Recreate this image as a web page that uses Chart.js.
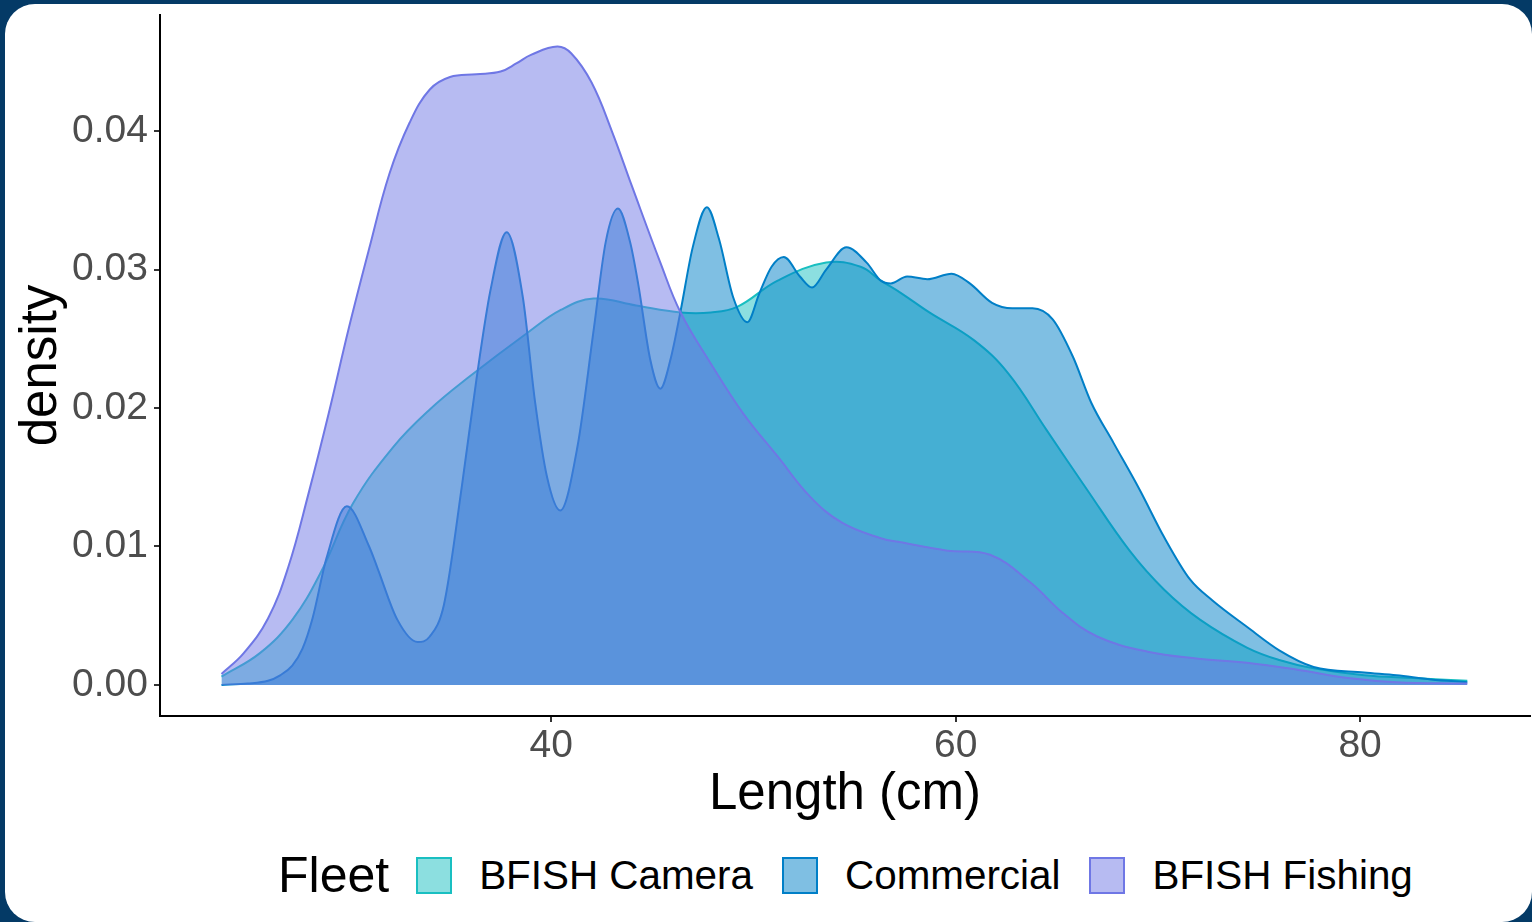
<!DOCTYPE html>
<html>
<head>
<meta charset="utf-8">
<script src="https://cdn.jsdelivr.net/npm/chart.js@4"></script>
<style>
  html, body { margin: 0; padding: 0; }
  body { width: 1532px; height: 922px; background: #043a66; position: relative; overflow: hidden;
         font-family: "Liberation Sans", Arial, Helvetica, sans-serif; }
  .card { position: absolute; left: 5px; top: 4px; width: 1527px; height: 918px; background: #fff; border-radius: 30px; }
  #wrap { position: absolute; left: 0; top: 0; width: 1532px; height: 840px; }
  #legend { position: absolute; left: 278px; top: 848px; height: 54px; display: flex; align-items: center; }
  #legend .title { font-size: 50px; margin-right: 27px; color: #000; }
  #legend .box { width: 32px; height: 33px; border: 2px solid; margin-right: 27px; }
  #legend .lab { font-size: 40.4px; margin-right: 29px; color: #000; }
</style>
</head>
<body>
<div class="card"></div>
<div id="wrap"><canvas id="density" width="1532" height="840"></canvas></div>
<div id="legend"></div>
<script>
// values
const fleets = ["BFISH Camera", "Commercial", "BFISH Fishing"];
const lineColors = ["rgb(25,191,193)", "rgb(0,127,199)", "rgb(111,119,229)"];
const fillColors = ["rgba(25,191,193,0.5)", "rgba(0,127,199,0.5)", "rgba(111,119,229,0.5)"];

const cameraLength = [23.7, 25.6, 27.2, 28.6, 30.2, 32.2, 34.0, 35.9, 38.8, 40.5, 42.1, 44.2, 46.4, 47.9, 49.2,
  51.2, 53.6, 55.3, 56.3, 57.3, 58.7, 60.9, 62.6, 64.5, 66.5, 68.6, 70.3, 72.1, 74.4, 76.0, 77.7, 80.2, 82.6, 85.3];
const cameraDensity = [0.0006, 0.0023, 0.0047, 0.0081, 0.0131, 0.0172, 0.0199, 0.0222, 0.0254, 0.0271, 0.0279, 0.0274, 0.0269, 0.0269, 0.0273,
  0.0292, 0.0305, 0.0302, 0.0292, 0.0283, 0.0269, 0.0249, 0.0225, 0.0184, 0.0141, 0.0097, 0.0069, 0.0047, 0.0027, 0.0018, 0.0012, 0.0007, 0.0005, 0.0003];

const commLength = [23.7, 25.0, 26.0, 26.6, 27.2, 27.7, 28.2, 28.9, 29.9, 31.0, 31.4, 32.4, 33.4, 34.0, 34.7, 35.6, 36.3, 37.0, 37.8, 38.6, 39.2, 39.8,
  40.45, 41.3, 42.1, 42.7, 43.3, 43.9, 44.3, 44.9, 45.4, 45.9, 46.4, 47.0, 47.7, 48.3, 49.0, 49.7, 50.3, 50.9, 51.5, 52.3,
  52.9, 53.6, 54.6, 55.6, 56.3, 56.8, 57.6, 58.6, 59.8, 60.7, 61.8, 62.8, 63.8, 64.8, 65.8, 66.7, 67.8, 69.1, 70.3, 71.6,
  72.7, 74.4, 76.0, 77.7, 80.2, 81.8, 83.5, 85.3];
const commDensity = [0.0000, 0.0001, 0.0003, 0.0007, 0.0014, 0.0026, 0.0048, 0.0092, 0.0129, 0.0100, 0.0085, 0.0047, 0.0031, 0.0035, 0.0058, 0.0145, 0.0220, 0.0285, 0.0327, 0.0280, 0.0205, 0.0150,
  0.0126, 0.0172, 0.0256, 0.0320, 0.0344, 0.0320, 0.0290, 0.0235, 0.0214, 0.0235, 0.0270, 0.0316, 0.0345, 0.0322, 0.0280, 0.0262, 0.0283, 0.0302, 0.0309, 0.0295,
  0.0287, 0.0300, 0.0316, 0.0305, 0.0292, 0.0290, 0.0295, 0.0293, 0.0297, 0.0290, 0.0276, 0.0272, 0.0272, 0.0264, 0.0237, 0.0204, 0.0175, 0.0141, 0.0107, 0.0076,
  0.0061, 0.0042, 0.0025, 0.0013, 0.0009, 0.0007, 0.0004, 0.0002];

const fishLength = [23.7, 24.8, 26.0, 27.0, 28.0, 29.0, 30.0, 31.0, 32.0, 33.0, 34.0, 35.0, 36.3, 37.5, 38.3, 39.0, 40.3, 41.0, 42.0,
  43.0, 44.0, 45.4, 46.4, 47.9, 49.5, 51.2, 52.8, 54.4, 56.3, 57.3, 59.6, 61.7, 63.7, 65.3, 67.0, 69.5, 72.0, 74.4, 76.9, 79.4, 81.8, 85.3];
const fishDensity = [0.0008, 0.0023, 0.0048, 0.0085, 0.0138, 0.0196, 0.0258, 0.0315, 0.0369, 0.0406, 0.0430, 0.0439, 0.0441, 0.0443, 0.0449, 0.0455, 0.0461, 0.0456, 0.0435,
  0.0400, 0.0360, 0.0305, 0.0269, 0.0232, 0.0196, 0.0165, 0.0136, 0.0117, 0.0106, 0.0103, 0.0097, 0.0094, 0.0074, 0.0052, 0.0035, 0.0024, 0.0019, 0.0016, 0.0011, 0.0005, 0.0002, 0.0001];

const xTicks = [40, 60, 80];
const yTicks = [0, 0.01, 0.02, 0.03, 0.04];

const series = [
  [cameraLength, cameraDensity],
  [commLength, commDensity],
  [fishLength, fishDensity]
];

const datasets = series.map(([xs, ys], i) => ({
  label: fleets[i],
  data: xs.map((x, j) => ({ x: x, y: ys[j] })),
  borderColor: lineColors[i],
  backgroundColor: fillColors[i],
  borderWidth: 2,
  pointRadius: 0,
  fill: 'origin',
  // the spiky commercial curve needs monotone so peaks do not overshoot
  cubicInterpolationMode: i === 1 ? 'monotone' : 'default',
  tension: 0.4,
  order: 3 - i
}));

const fontFamily = '"Liberation Sans", Arial, Helvetica, sans-serif';

new Chart(document.getElementById('density').getContext('2d'), {
  type: 'line',
  data: { datasets },
  options: {
    responsive: false,
    animation: false,
    layout: { padding: { left: 0, top: 15, right: 2, bottom: 0 } },
    scales: {
      x: {
        type: 'linear',
        min: 20.66,
        max: 88.4,
        afterFit: (scale) => { scale.height = 124; scale.paddingLeft = 0; scale.paddingRight = 0; },
        afterBuildTicks: (scale) => { scale.ticks = xTicks.map(v => ({ value: v })); },
        grid: { drawOnChartArea: false, drawTicks: true, tickLength: 6, color: '#333', lineWidth: 2 },
        border: { display: true, color: '#000', width: 2 },
        ticks: { color: '#4d4d4d', font: { family: fontFamily, size: 39 }, padding: 1, maxRotation: 0,
                 callback: v => String(v) },
        title: { display: true, text: 'Length (cm)', color: '#000', font: { family: fontFamily, size: 51 }, padding: { top: 0, bottom: 14 } }
      },
      y: {
        type: 'linear',
        min: -0.00224,
        max: 0.04838,
        afterFit: (scale) => { scale.width = 160; scale.paddingTop = 0; scale.paddingBottom = 0; },
        afterBuildTicks: (scale) => { scale.ticks = yTicks.map(v => ({ value: v })); },
        grid: { drawOnChartArea: false, drawTicks: true, tickLength: 6, color: '#333', lineWidth: 2 },
        border: { display: true, color: '#000', width: 2 },
        ticks: { color: '#4d4d4d', font: { family: fontFamily, size: 39 }, padding: 6,
                 callback: v => v.toFixed(2) },
        title: { display: true, text: 'density', color: '#000', font: { family: fontFamily, size: 51 }, padding: { top: 11, bottom: 0 } }
      }
    },
    plugins: {
      legend: { display: false },
      tooltip: { enabled: false },
      filler: { drawTime: 'beforeDatasetDraw' }
    }
  }
});

// legend drawn as html, same as the ggplot guide
const legend = document.getElementById('legend');
const t = document.createElement('span');
t.className = 'title';
t.textContent = 'Fleet';
legend.appendChild(t);
fleets.forEach((name, i) => {
  const box = document.createElement('span');
  box.className = 'box';
  box.style.borderColor = lineColors[i];
  box.style.backgroundColor = fillColors[i];
  legend.appendChild(box);
  const lab = document.createElement('span');
  lab.className = 'lab';
  lab.textContent = name;
  legend.appendChild(lab);
});
</script>
</body>
</html>
